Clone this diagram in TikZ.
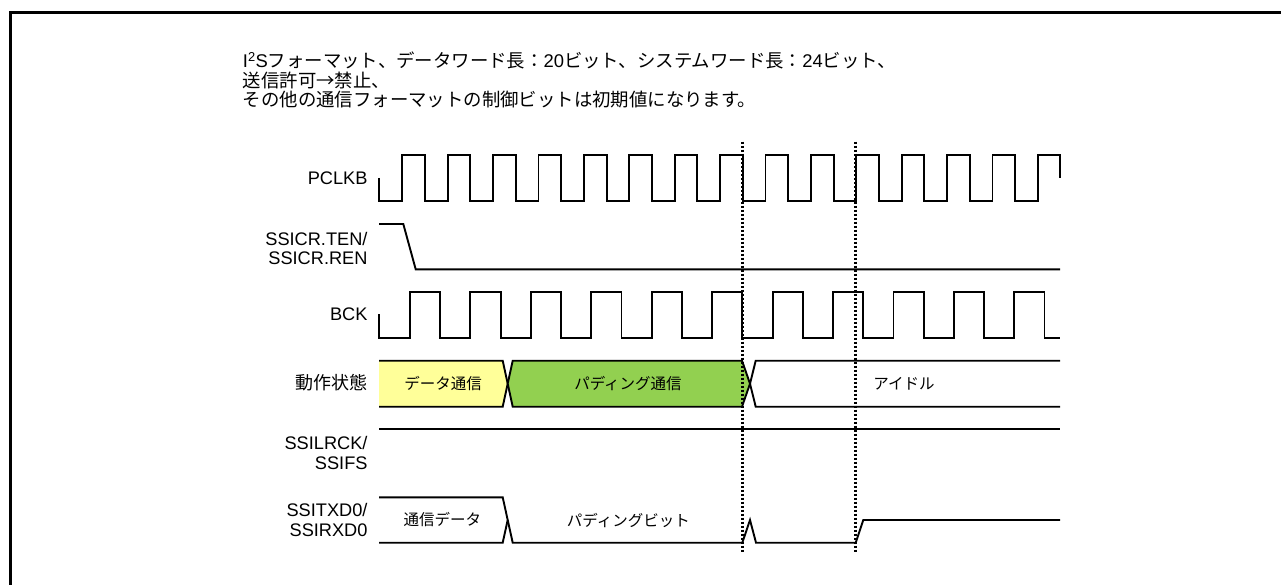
\documentclass[tikz,border=0pt]{standalone}
\usepackage{fontspec}
\setmainfont{Liberation Sans}
\newfontfamily\cjk{Noto Sans CJK JP}
\definecolor{datayellow}{HTML}{FFFF99}
\definecolor{padgreen}{HTML}{92D050}
\begin{document}
\begin{tikzpicture}[x=1pt,y=-1pt,
  sig/.style={line width=1.9pt,line join=miter},
  sigfill/.style={line width=1.9pt,line join=miter,draw=black},
  siglabel/.style={anchor=east,align=right,inner sep=0pt,font=\fontsize{18.2}{19.5}\selectfont},
  inlabel/.style={inner sep=0pt,font=\fontsize{15.5}{17}\selectfont\cjk},
  titleline/.style={anchor=base west,inner sep=0pt,font=\fontsize{18.4}{20}\selectfont},
  markline/.style={line width=2.8pt,dash pattern=on 2.6pt off 1.4pt}]
\useasboundingbox (0,0) rectangle (1281,585);
% frame
\draw[line width=3pt] (10.5,590) -- (10.5,12.5) -- (1290,12.5);
% title
\node[titleline] (t1) at (242.7,68) {I\textsuperscript{2}S{\cjk フォーマット、データワード長：}20{\cjk ビット、システムワード長：}24{\cjk ビット、}};
\node[titleline] (t2) at (242.7,88) {{\cjk 送信許可→禁止、}};
\node[titleline] (t3) at (242.7,107) {{\cjk その他の通信フォーマットの制御ビットは初期値になります。}};
% labels
\node[siglabel] (lpclk) at (367.7,178) {PCLKB};
\node[siglabel] (lten) at (367.7,248.5) {SSICR.TEN/\\SSICR.REN};
\node[siglabel] (lbck) at (367.7,314.3) {BCK};
\node[siglabel,font=\fontsize{18}{19.5}\selectfont\cjk] (lstate) at (367.7,383) {動作状態};
\node[siglabel] (llrck) at (367.7,453) {SSILRCK/\\SSIFS};
\node[siglabel] (ltxd) at (367.7,520) {SSITXD0/\\SSIRXD0};
% PCLKB
\draw[sig] (379,178) -- (379,200.7)
  \foreach \k in {0,...,13} { -- ({402.3+45.4*\k},200.7) -- ({402.3+45.4*\k},155) -- ({425.0+45.4*\k},155) -- ({425.0+45.4*\k},200.7) }
  -- (1037.9,200.7) -- (1037.9,155) -- (1060,155) -- (1060,178);
% SSICR.TEN
\draw[sig] (379,224) -- (403.3,224) -- (415.7,269.3) -- (1060,269.3);
% BCK
\draw[sig] (379,314) -- (379,337.7)
  \foreach \k in {0,...,10} { -- ({410+60.43*\k},337.7) -- ({410+60.43*\k},292.3) -- ({440.2+60.43*\k},292.3) -- ({440.2+60.43*\k},337.7) }
  -- (1060,337.7);
% state
\fill[datayellow] (379,360.7) -- (502.7,360.7) -- (507.7,383.7) -- (502.7,406.7) -- (379,406.7) -- cycle;
\draw[sig] (379,360.7) -- (502.7,360.7) -- (507.7,383.7) -- (502.7,406.7) -- (379,406.7);
\draw[sigfill,fill=padgreen] (512.7,360.7) -- (742,360.7) -- (750,383.7) -- (742,406.7) -- (512.7,406.7) -- (507.7,383.7) -- cycle;
\draw[sig] (1060,360.7) -- (755.7,360.7) -- (750,383.7) -- (755.7,406.7) -- (1060,406.7);
\node[inlabel] (sdata) at (443,383.7) {データ通信};
\node[inlabel] (spad) at (628,383.7) {パディング通信};
\node[inlabel] (sidle) at (904,383.7) {アイドル};
% SSILRCK
\draw[sig] (379,429.3) -- (1060,429.3);
% SSITXD0
\draw[sig] (379,497.3) -- (502.7,497.3) -- (512.7,542.7) -- (742.3,542.7) -- (750,520) -- (756,542.7) -- (855.7,542.7) -- (863.3,520) -- (1060,520);
\draw[sig] (379,542.7) -- (502.7,542.7) -- (507.7,520);
\node[inlabel] (ddata) at (442.3,520) {通信データ};
\node[inlabel] (dpad) at (628.3,520) {パディングビット};
% markers
\coordinate (m1t) at (742.3,141.7);
\coordinate (m1b) at (742.3,551.7);
\coordinate (m2t) at (855.7,141.7);
\coordinate (m2b) at (855.7,551.7);
\draw[markline] (m1t) -- (m1b);
\draw[markline] (m2t) -- (m2b);
\end{tikzpicture}
\end{document}
